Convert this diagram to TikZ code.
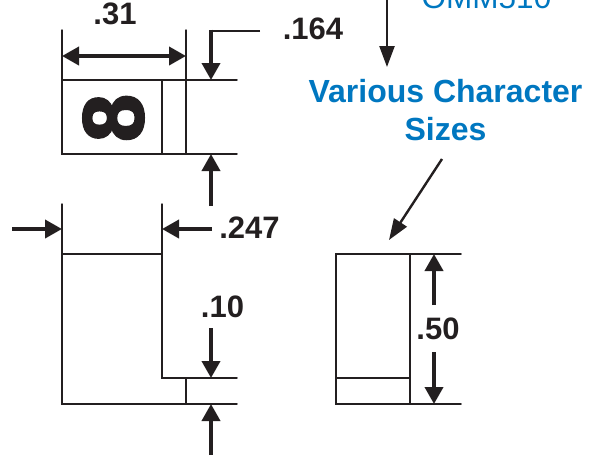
\documentclass[tikz,border=0pt]{standalone}
\usepackage{fontspec}
\setmainfont{Liberation Sans}
\newfontfamily\heavyfont[FakeBold=2.5]{Liberation Sans Bold}
\usetikzlibrary{arrows.meta}
\definecolor{ink}{HTML}{231F20}
\definecolor{callout}{HTML}{0077C0}
\tikzset{
  part/.style={draw=ink,line width=1.5pt,line cap=round},
  dim/.style={draw=ink,line width=3.8pt,-{Triangle[length=17pt,width=18pt]}},
  dimboth/.style={draw=ink,line width=3.8pt,{Triangle[length=17pt,width=18pt]}-{Triangle[length=17pt,width=18pt]}},
  lead/.style={draw=ink,line width=2.4pt,-{Triangle[length=21pt,width=15pt]}},
  dimtext/.style={text=ink,font=\fontsize{31}{33}\selectfont\bfseries,inner sep=0pt},
  bluebold/.style={text=callout,font=\fontsize{32}{38}\selectfont\bfseries,inner sep=0pt,align=center},
  bluereg/.style={text=callout,font=\fontsize{31.5}{33}\selectfont,inner sep=0pt}
}
\begin{document}
\begin{tikzpicture}[x=1pt,y=-1pt]
\useasboundingbox (0,0) rectangle (589,458);
\clip (0,0) rectangle (589,458);
% top view
\draw[part] (62,30) -- (62,154) -- (237,154);
\draw[part] (62,80) -- (237,80);
\draw[part] (186,30) -- (186,154);
\draw[part] (162,80) -- (162,154);
\node[text=ink,rotate=90,inner sep=0pt,font=\fontsize{86}{86}\selectfont\heavyfont] (glyph) at (113.5,118) {8};
\coordinate (wl) at (62,56); \coordinate (wr) at (186,56);
\draw[dimboth] (wl) -- (wr);
\node[dimtext] (t31) at (115,14) {.31};
\coordinate (la) at (260,31); \coordinate (lb) at (211,31); \coordinate (lc) at (211,80);
\draw[draw=ink,line width=2.6pt] (la) -- (lb);
\draw[dim] (lb) ++(0,-1.3) -- (lc);
\node[dimtext] (t164) at (313,29) {.164};
\coordinate (ua) at (211,206); \coordinate (ub) at (211,154);
\draw[dim] (ua) -- (ub);
% front view
\draw[part] (62,204) -- (62,404) -- (237,404);
\draw[part] (162,204) -- (162,378) -- (237,378);
\draw[part] (62,254) -- (162,254);
\draw[part] (186,378) -- (186,404);
\coordinate (ha) at (12,229); \coordinate (hb) at (62,229);
\coordinate (hc) at (212,229); \coordinate (hd) at (162,229);
\draw[dim] (ha) -- (hb);
\draw[dim] (hc) -- (hd);
\node[dimtext] (t247) at (249.5,228) {.247};
\coordinate (ta) at (211,328); \coordinate (tb) at (211,378);
\coordinate (tc) at (211,455); \coordinate (td) at (211,404);
\draw[dim] (ta) -- (tb);
\draw[dim] (tc) -- (td);
\node[dimtext] (t10) at (222.5,307) {.10};
% side view
\draw[part] (336,254) rectangle (410,404);
\draw[part] (336,378) -- (410,378);
\draw[part] (410,254) -- (461,254);
\draw[part] (410,404) -- (461,404);
\node[dimtext] (t50) at (438,329) {.50};
\coordinate (sa) at (434,305); \coordinate (sb) at (434,254);
\coordinate (sc) at (434,352); \coordinate (sd) at (434,404);
\draw[dim] (sa) -- (sb);
\draw[dim] (sc) -- (sd);
% callouts
\node[bluereg,anchor=base] (omm) at (486.5,8) {OMM510};
\coordinate (ca) at (387,-2); \coordinate (cb) at (387,67);
\draw[lead] (ca) -- (cb);
\node[bluebold] (various) at (445.5,110) {Various Character\\Sizes};
\coordinate (da) at (442,159); \coordinate (db) at (389,240);
\draw[lead] (da) -- (db);
\end{tikzpicture}
\end{document}
